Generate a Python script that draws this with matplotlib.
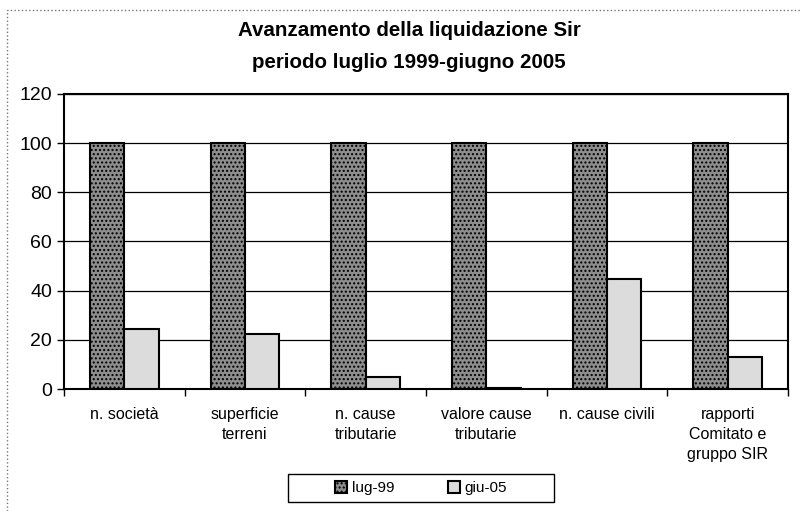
import matplotlib
matplotlib.use('Agg')
import matplotlib.pyplot as plt
import numpy as np
from matplotlib.patches import Rectangle

plt.rcParams['font.family'] = ['Liberation Sans', 'DejaVu Sans']
plt.rcParams['hatch.color'] = '#6e6e6e'

categories = ['n. società', 'superficie\nterreni', 'n. cause\ntributarie',
              'valore cause\ntributarie', 'n. cause civili',
              'rapporti\nComitato e\ngruppo SIR']
lug_99 = [100, 100, 100, 100, 100, 100]
giu_05 = [24.5, 22.3, 4.7, 0.5, 44.6, 13.2]
yticks = [0, 20, 40, 60, 80, 100, 120]

fig = plt.figure(figsize=(8.02, 5.11), dpi=100)
ax = fig.add_axes([64 / 802, 1 - 389 / 511, (788 - 64) / 802, (389 - 94) / 511])

x = np.arange(len(categories))
w = 0.2857
ax.bar(x - w / 2, lug_99, w, color='#8e8e8e', edgecolor='black', linewidth=1.5,
       hatch='....', label='lug-99', zorder=3)
ax.bar(x + w / 2, giu_05, w, color='#dcdcdc', edgecolor='black', linewidth=1.5,
       label='giu-05', zorder=3)

ax.set_xlim(-0.5, len(categories) - 0.5)
ax.set_ylim(0, 120)
ax.set_yticks(yticks)
ax.tick_params(axis='y', labelsize=14, length=5, width=1, direction='out')
ax.grid(axis='y', color='black', linewidth=0.9, zorder=0)

# category labels centred, ticks on category boundaries
ax.set_xticks(np.arange(len(categories) + 1) - 0.5)
ax.set_xticklabels([])
ax.set_xticks(x, minor=True)
ax.set_xticklabels(categories, minor=True, fontsize=11.5, linespacing=1.4)
ax.tick_params(axis='x', which='minor', length=0, pad=13)
ax.tick_params(axis='x', which='major', length=5, width=1, direction='out')
for s in ax.spines.values():
    s.set_linewidth(1.5)

fig.text(409 / 802, 1 - 30 / 511, 'Avanzamento della liquidazione Sir',
         ha='center', va='center', fontsize=14.8, fontweight='bold')
fig.text(409 / 802, 1 - 62 / 511, 'periodo luglio 1999-giugno 2005',
         ha='center', va='center', fontsize=14.8, fontweight='bold')

# legend entries without frame, box drawn separately
fig.legend(loc='center', bbox_to_anchor=(421 / 802, 1 - 488 / 511),
           ncol=2, fontsize=11, frameon=False,
           handlelength=0.8, handleheight=0.8, handletextpad=0.3,
           columnspacing=3.5, borderaxespad=0)
fig.patches.append(Rectangle((288 / 802, 1 - 502 / 511), 266 / 802, 28 / 511,
                             transform=fig.transFigure, fill=False,
                             edgecolor='black', linewidth=1))

# dotted outer frame of the scanned chart
fig.patches.append(Rectangle((7 / 802, -0.1), 1.1, 1 - 10 / 511 + 0.1,
                             transform=fig.transFigure, fill=False,
                             edgecolor='#777777', linestyle=':', linewidth=1))

fig.savefig('out.png', dpi=100)
